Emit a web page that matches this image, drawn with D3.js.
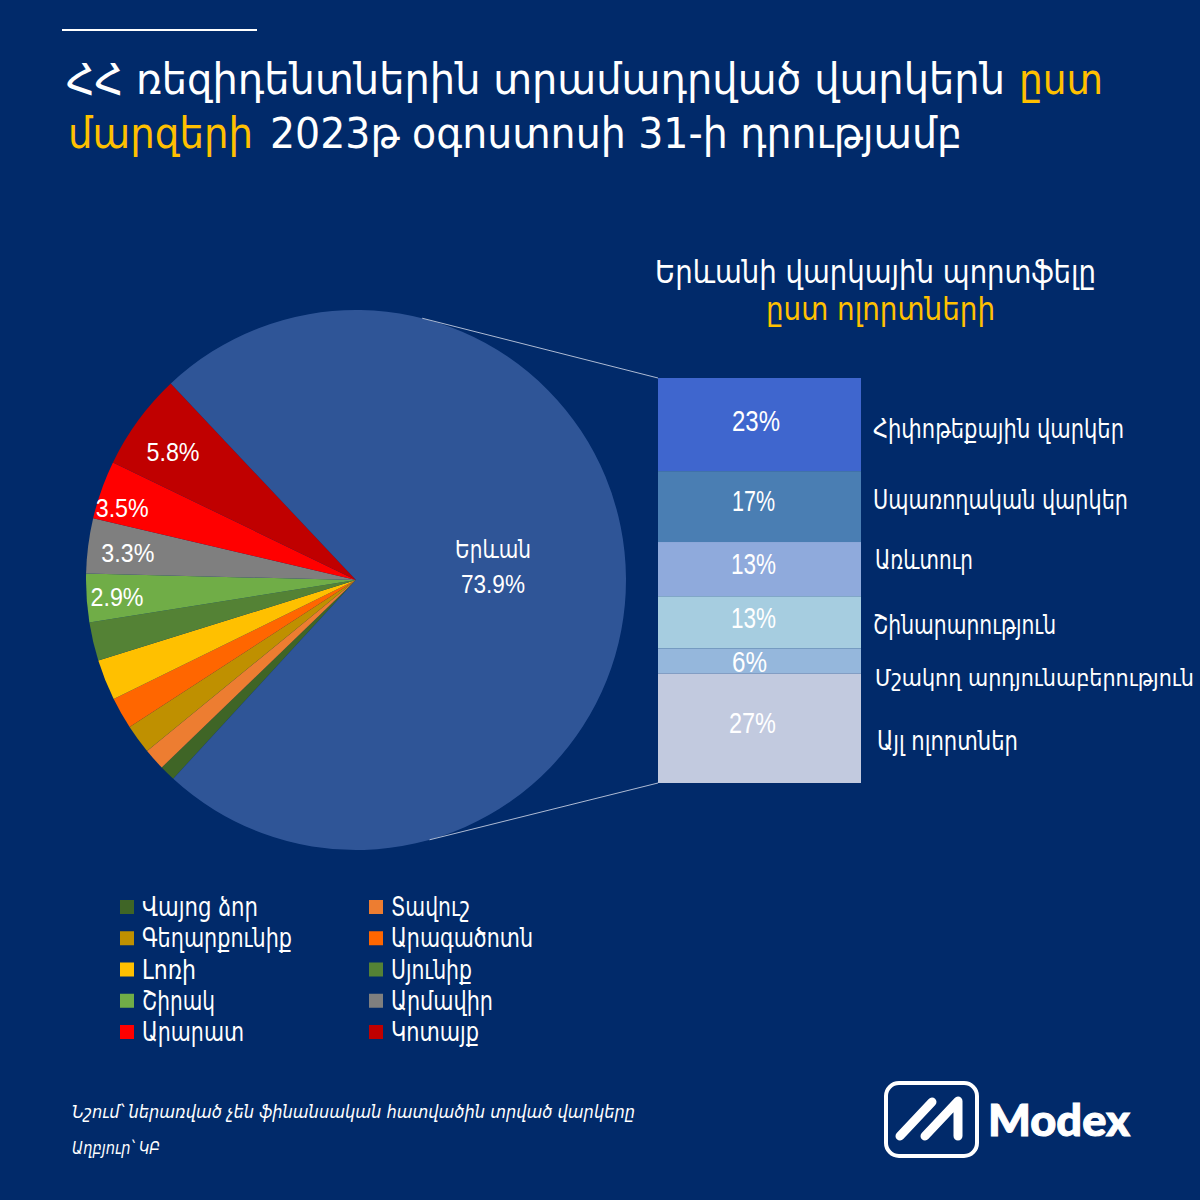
<!DOCTYPE html>
<html>
<head>
<meta charset="utf-8">
<script src="https://cdnjs.cloudflare.com/ajax/libs/d3/7.8.5/d3.min.js"></script>
<style>
	html, body { margin: 0; padding: 0; background: #012a6a; }
	svg { display: block; }
	text { font-family: "DejaVu Sans Condensed", "DejaVu Sans", "Liberation Sans", sans-serif; fill: #fff; }
	.num { font-family: "Liberation Sans", sans-serif; }
</style>
</head>
<body>
<div id="chart"></div>
<script>
// pie: share of loans per region, %
var regionNames = ["Վայոց ձոր", "Տավուշ", "Գեղարքունիք", "Արագածոտն", "Լոռի", "Սյունիք", "Շիրակ", "Արմավիր", "Արարատ", "Կոտայք", "Երևան"];
var regionValues = [0.95, 1.3, 1.75, 1.9, 2.45, 2.3, 2.9, 3.3, 3.5, 5.8, 73.9];
var regionColors = ["#3f6526", "#ed7d31", "#bf9000", "#ff6600", "#ffc000", "#548235", "#70ad47", "#7f7f7f", "#ff0000", "#c00000", "#2f5597"];
var regionLabels = ["", "", "", "", "", "", "2.9%", "3.3%", "3.5%", "5.8%", "73.9%"];

// stacked bar: Yerevan portfolio by sector
var sectorNames = ["Հիփոթեքային վարկեր", "Սպառողական վարկեր", "Առևտուր", "Շինարարություն", "Մշակող արդյունաբերություն", "Այլ ոլորտներ"];
var sectorHeights = [23, 17.5, 13.4, 12.9, 6.2, 27];
var sectorLabels = ["23%", "17%", "13%", "13%", "6%", "27%"];
var sectorColors = ["#3f66ce", "#4a7eb3", "#8faadc", "#a6cde0", "#95b7dc", "#c2cadf"];

var amber = "#ffc000";
var width = 1200, height = 1200;

var svg = d3.select("#chart").append("svg")
	.attr("width", width)
	.attr("height", height);

svg.append("rect").attr("width", width).attr("height", height).attr("fill", "#012a6a");

// text fitted to the width it has in the picture
function fitText(str, x, y, size, w, color, anchor, cls) {
	var t = svg.append("text")
		.attr("x", x)
		.attr("y", y)
		.attr("font-size", size)
		.attr("text-anchor", anchor || "start")
		.style("fill", color || "#fff")
		.text(str);
	if (w) t.attr("textLength", w).attr("lengthAdjust", "spacingAndGlyphs");
	if (cls) t.attr("class", cls);
	return t;
}

// header
svg.append("line").attr("x1", 62).attr("x2", 257).attr("y1", 30).attr("y2", 30)
	.attr("stroke", "#fff").attr("stroke-width", 2);
fitText("ՀՀ ռեզիդենտներին տրամադրված վարկերն", 66, 94, 43, 939);
fitText("ըստ", 1019, 94, 43, 84, amber);
fitText("մարզերի", 68, 148, 43, 185, amber);
fitText("2023թ օգոստոսի 31-ի դրությամբ", 270, 148, 43, 692);

fitText("Երևանի վարկային պորտֆելը", 655, 283, 32, 441);
fitText("ըստ ոլորտների", 766, 320, 32, 229, amber);

// pie
var pieCx = 356, pieCy = 580, pieR = 270;
var startDeg = 222.6;
var pie = d3.pie().sort(null)
	.startAngle(startDeg * Math.PI / 180)
	.endAngle((startDeg + 360) * Math.PI / 180);
var arc = d3.arc().innerRadius(0).outerRadius(pieR);
var labelArc = d3.arc().innerRadius(230).outerRadius(230);
var arcs = pie(regionValues);

var pieG = svg.append("g").attr("transform", "translate(" + pieCx + "," + pieCy + ")");
pieG.selectAll(".slice")
	.data(arcs)
	.enter()
	.append("path")
	.attr("class", "slice")
	.attr("d", arc)
	.attr("fill", function(d, i) { return regionColors[i]; });

// small nudges, labels are hand placed in the original
var nudges = { "2.9%": [-9.5, 11], "3.3%": [0, 11], "3.5%": [-17, 14], "5.8%": [2.5, 17] };
arcs.forEach(function(d, i) {
	var txt = regionLabels[i];
	if (!nudges[txt]) return;
	var c = labelArc.centroid(d);
	fitText(txt, pieCx + c[0] + nudges[txt][0], pieCy + c[1] + nudges[txt][1], 26, 53, "#fff", "middle", "num");
});
fitText(regionNames[10], 493, 558, 24, 76, "#fff", "middle");
fitText(regionLabels[10], 493, 593, 26, 64, "#fff", "middle", "num");

// stacked bar
var barX = 658, barW = 203;
var y = d3.scaleLinear().domain([0, 100]).range([378, 783]);
var tops = [0].concat(Array.from(d3.cumsum(sectorHeights)));

svg.selectAll(".sector")
	.data(sectorHeights)
	.enter()
	.append("rect")
	.attr("class", "sector")
	.attr("x", barX)
	.attr("width", barW)
	.attr("y", function(d, i) { return y(tops[i]); })
	.attr("height", function(d, i) { return y(tops[i + 1]) - y(tops[i]); })
	.attr("fill", function(d, i) { return sectorColors[i]; });

// connector lines, from the pie rim to the bar corners
function rimPoint(deg, r) {
	var a = deg * Math.PI / 180;
	return [pieCx + r * Math.sin(a), pieCy - r * Math.cos(a)];
}
[[14.2, y(0)], [164.2, y(100)]].forEach(function(c) {
	var p = rimPoint(c[0], pieR);
	svg.append("line")
		.attr("x1", p[0]).attr("y1", p[1])
		.attr("x2", barX).attr("y2", c[1])
		.attr("stroke", "#aebbd4").attr("stroke-width", 1);
});

var pctCenter = [756, 753.5, 753.5, 753.5, 749.5, 752.5];
var pctBase = [431, 511, 574, 628, 672, 733];
var pctW = [48, 43, 45, 45, 35, 47];
sectorLabels.forEach(function(d, i) {
	fitText(d, pctCenter[i], pctBase[i], 29, pctW[i], "#fff", "middle", "num");
});

var sectorX = [873, 873, 875, 873, 875, 877];
var sectorBase = [438, 509, 569, 634, 686, 750];
var sectorW = [251, 255, 98, 183, 319, 141];
var sectorSize = [26, 26, 26, 26, 23.5, 26];
sectorNames.forEach(function(d, i) {
	fitText(d, sectorX[i], sectorBase[i], sectorSize[i], sectorW[i]);
});

// legend, two columns, 5 rows
var legendOrder = d3.range(0, 10);
var legendX = d3.scalePoint().domain([0, 1]).range([120, 369]);
var legendY = d3.scalePoint().domain(d3.range(0, 5)).range([907, 1032]);
var legendW = [116, 79, 150, 142, 54, 81, 73, 102, 102, 88];
var legendG = svg.selectAll(".legend")
	.data(legendOrder)
	.enter()
	.append("g")
	.attr("class", "legend")
	.attr("transform", function(d) {
		return "translate(" + legendX(d % 2) + "," + legendY(Math.floor(d / 2)) + ")";
	});
legendG.append("rect")
	.attr("y", -7).attr("width", 14).attr("height", 14)
	.attr("fill", function(d) { return regionColors[d]; });
legendG.append("text")
	.attr("x", 22).attr("y", 9)
	.attr("font-size", 26)
	.attr("textLength", function(d) { return legendW[d]; })
	.attr("lengthAdjust", "spacingAndGlyphs")
	.text(function(d) { return regionNames[d]; });

// footnotes
fitText("Նշում՝ ներառված չեն ֆինանսական հատվածին տրված վարկերը", 72, 1118, 18, 563).style("font-style", "italic");
fitText("Աղբյուր՝ ԿԲ", 72, 1154, 18, 88).style("font-style", "italic");

// logo
var logo = svg.append("g").attr("fill", "none").attr("stroke", "#fff").attr("stroke-linecap", "round").attr("stroke-linejoin", "round");
logo.append("rect").attr("x", 886).attr("y", 1083).attr("width", 91).attr("height", 73).attr("rx", 13).attr("stroke-width", 4);
logo.append("path").attr("d", d3.line()([[900, 1136], [932, 1102]])).attr("stroke-width", 9);
logo.append("path").attr("d", d3.line()([[925, 1136], [958, 1101], [958, 1136]])).attr("stroke-width", 9);
fitText("Modex", 988, 1136, 43, 142)
	.style("font-family", "Lato, sans-serif")
	.style("font-weight", 900)
	.style("stroke", "#fff")
	.style("stroke-width", 1);
</script>
</body>
</html>
